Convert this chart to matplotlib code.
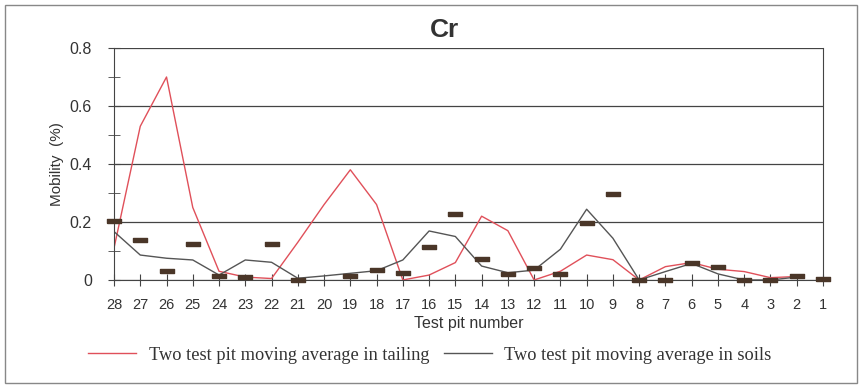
import numpy as np
import matplotlib
matplotlib.use("Agg")
import matplotlib.pyplot as plt
from matplotlib.patches import Rectangle
from matplotlib.markers import MarkerStyle
from matplotlib.path import Path

pits = ["28","27","26","25","24","23","22","21","20","19","18","17","16","15",
        "14","13","12","11","10","9","8","7","6","5","4","3","2","1"]
tailing_avg = [0.11,0.53,0.70,0.25,0.03,0.01,0.005,0.13,0.26,0.38,0.26,0.0,0.017,0.06,
               0.22,0.17,0.0,0.03,0.086,0.07,0.0,0.046,0.06,0.037,0.029,0.008,0.012,np.nan]
soils_avg = [0.167,0.086,0.075,0.069,0.017,0.069,0.061,0.006,0.014,0.023,0.032,0.069,0.169,0.15,
             0.048,0.025,0.034,0.106,0.244,0.144,0.0,0.029,0.057,0.021,0.0,0.0,0.01,np.nan]
mobility = [0.203,0.138,0.031,0.123,0.014,0.012,0.125,0.0,np.nan,0.015,0.034,0.025,0.113,0.226,
            0.073,0.021,0.04,0.022,0.195,0.295,0.0,0.0,0.057,0.046,0.0,0.0,0.015,0.005]

fig = plt.figure(figsize=(8.65, 3.88), dpi=100)
fig.patches.append(Rectangle((0.006, 0.012), 0.985, 0.975, transform=fig.transFigure,
                             fill=False, edgecolor="#888888", linewidth=1.0))
ax = fig.add_axes([0.1318, 0.2784, 0.8196, 0.5979])
x = np.arange(len(pits))

ax.plot(x, tailing_avg, color="#e0505a", linewidth=1.0)
ax.plot(x, soils_avg, color="#555555", linewidth=1.0)
dash = MarkerStyle(Path([(-1.3, -0.45), (1.3, -0.45), (1.3, 0.45), (-1.3, 0.45), (-1.3, -0.45)]))
ax.plot(x, mobility, linestyle="none", marker=dash, markersize=10,
        color="#4a3628", markeredgecolor="#4a3628", clip_on=False, zorder=5)

ax.set_xlim(0, 27)
ax.set_ylim(0, 0.8)
ax.set_xticks(x)
ax.set_xticklabels(pits, fontsize=10.5, family="Liberation Sans", color="#333333")
ax.set_yticks([0, 0.2, 0.4, 0.6, 0.8])
ax.set_yticklabels(["0", "0.2", "0.4", "0.6", "0.8"], fontsize=11.5,
                   family="Liberation Sans", color="#333333")
ax.set_yticks([0.1, 0.3, 0.5, 0.7], minor=True)
ax.tick_params(axis="y", which="both", direction="inout", length=8, color="#444444", pad=12)
ax.tick_params(axis="x", direction="inout", length=8, color="#444444", pad=9)
ax.grid(axis="y", color="#444444", linewidth=0.9)
for s in ["left", "right", "bottom"]:
    ax.spines[s].set_color("#444444")
ax.spines["top"].set_visible(False)

fig.text(0.514, 0.922, "Cr", fontsize=19, fontweight="bold", family="Liberation Sans",
         color="#333333", ha="center", va="center")
ax.set_xlabel("Test pit number", fontsize=11.5, family="Liberation Sans",
              color="#333333", labelpad=3)
ax.set_ylabel("Mobility  (%)", fontsize=11, family="Liberation Sans",
              color="#333333", labelpad=4)

leg = fig.legend(ax.lines[:2], ["Two test pit moving average in tailing",
                                "Two test pit moving average in soils"],
                 loc="center", bbox_to_anchor=(0.497, 0.085), ncol=2, frameon=False,
                 prop={"family": "Liberation Serif", "size": 13.2},
                 handlelength=2.6, columnspacing=0.8, handletextpad=0.7)
for t in leg.get_texts():
    t.set_color("#333333")

fig.savefig("out.png", dpi=100)
